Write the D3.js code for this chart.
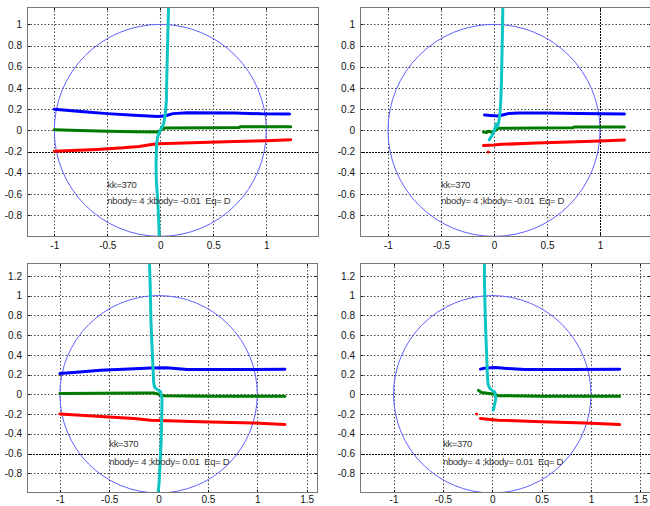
<!DOCTYPE html>
<html><head><meta charset="utf-8">
<script src="https://cdn.jsdelivr.net/npm/d3@7"></script>
<style>
html,body{margin:0;padding:0;background:#fff;}
svg text{font-family:"Liberation Sans",Arial,sans-serif;}
</style></head>
<body>
<svg id="chart" width="650" height="506"></svg>
<script>
// ---------- data ----------
const xTicksTop = [-1, -0.5, 0, 0.5, 1];
const xTicksBottom = [-1, -0.5, 0, 0.5, 1, 1.5];
const yTicksTop = [-0.8, -0.6, -0.4, -0.2, 0, 0.2, 0.4, 0.6, 0.8, 1];
const yTicksBottom = [-0.8, -0.6, -0.4, -0.2, 0, 0.2, 0.4, 0.6, 0.8, 1, 1.2];
const labelKK = "kk=370";
const labelNeg = "nbody= 4 ;kbody= -0.01 \u00a0Eq= D";
const labelPos = "nbody= 4 ;kbody= 0.01 \u00a0Eq= D";

const p1Blue = [[-1,0.20],[-0.75,0.178],[-0.5,0.158],[-0.25,0.142],[-0.02,0.132],[0.05,0.138],[0.12,0.158],[0.25,0.166],[0.7,0.164],[0.95,0.156],[1.22,0.154]];
const p1Green = [[-1,0.006],[-0.85,0.0],[-0.5,-0.008],[-0.25,-0.012],[-0.02,-0.015],[0.01,0.005],[0.04,0.022],[0.5,0.025],[0.74,0.027],[0.76,0.035],[1.23,0.035]];
const p1Red = [[-1,-0.198],[-0.6,-0.18],[-0.35,-0.165],[-0.2,-0.152],[-0.1,-0.135],[-0.02,-0.127],[0.3,-0.117],[0.7,-0.105],[1.0,-0.097],[1.23,-0.088]];
const p1Cyan = [[0.078,1.17],[0.072,0.95],[0.066,0.7],[0.06,0.45],[0.058,0.29],[0.046,0.14],[0.03,0.06],[0.01,0.02],[0.0,0.0],[-0.025,-0.06],[-0.034,-0.12],[-0.04,-0.3],[-0.038,-0.47],[-0.025,-0.65],[-0.015,-0.85],[-0.01,-1.0]];

const p2Blue = [[-0.09,0.145],[-0.03,0.14],[0.04,0.135],[0.08,0.145],[0.14,0.16],[0.23,0.165],[0.5,0.165],[0.8,0.16],[1.23,0.154]];
const p2Green = [[-0.1,-0.015],[-0.07,-0.02],[-0.05,-0.008],[-0.02,-0.018],[0.02,0.005],[0.04,0.02],[0.4,0.022],[0.74,0.024],[0.76,0.033],[1.23,0.033]];
const p2Red = [[-0.1,-0.142],[0.0,-0.138],[0.07,-0.132],[0.4,-0.12],[0.7,-0.11],[1.0,-0.1],[1.23,-0.092]];
const p2RedDot = [[-0.055,-0.205]];
const p2Cyan = [[0.083,1.17],[0.08,0.95],[0.075,0.7],[0.07,0.45],[0.064,0.28],[0.055,0.15],[0.045,0.08],[0.03,0.03],[0.02,0.06],[0.0,-0.01],[-0.02,-0.05],[-0.045,-0.09]];

const p3Blue = [[-1,0.21],[-0.8,0.225],[-0.59,0.243],[-0.3,0.255],[-0.08,0.267],[0.08,0.268],[0.29,0.25],[0.7,0.25],[1.28,0.253]];
const p3Green = [[-1,0.007],[-0.6,0.01],[-0.2,0.012],[-0.05,0.014],[0.0,0.0],[0.05,-0.014],[0.5,-0.02],[1.28,-0.02]];
const p3Red = [[-1,-0.2],[-0.5,-0.23],[-0.25,-0.245],[-0.08,-0.262],[0.42,-0.277],[0.96,-0.29],[1.28,-0.307]];
const p3Cyan = [[-0.092,1.33],[-0.085,1.1],[-0.078,0.76],[-0.065,0.45],[-0.057,0.28],[-0.05,0.12],[-0.04,0.07],[-0.015,0.05],[0.02,0.025],[0.035,-0.05],[0.03,-0.3],[0.027,-0.46],[0.015,-0.7],[0.005,-0.9],[-0.005,-1.0]];

const p4Blue = [[-0.12,0.255],[-0.08,0.265],[0.03,0.272],[0.15,0.262],[0.33,0.25],[0.8,0.25],[1.29,0.253]];
const p4Green = [[-0.14,0.04],[-0.11,0.018],[-0.05,0.01],[0.02,0.0],[0.06,-0.014],[0.5,-0.02],[1.29,-0.02]];
const p4Red = [[-0.12,-0.245],[0.06,-0.262],[0.5,-0.277],[0.94,-0.29],[1.29,-0.307]];
const p4RedDot = [[-0.158,-0.2]];
const p4Cyan = [[-0.08,1.33],[-0.078,1.1],[-0.074,0.9],[-0.065,0.6],[-0.057,0.4],[-0.05,0.2],[-0.042,0.1],[-0.025,0.06],[0.0,0.04],[0.027,0.02],[0.035,-0.05],[0.02,-0.12],[0.01,-0.16]];

// ---------- layout ----------
const panels = [
  {id:1, left:27, top:7, width:292, height:230, xd:[-1.2575,1.497], yd:[-1.006,1.164], xt:xTicksTop, yt:yTicksTop, pad:5,
   darkX:[], darkY:[-0.2],
   blue:p1Blue, green:p1Green, red:p1Red, cyan:p1Cyan, dots:[], txt:labelNeg, ty:[-0.51,-0.66]},
  {id:2, left:360, top:7, width:292, height:230, xd:[-1.264,1.49], yd:[-1.006,1.164], xt:xTicksTop, yt:yTicksTop, pad:5,
   darkX:[1], darkY:[-0.2],
   blue:p2Blue, green:p2Green, red:p2Red, cyan:p2Cyan, dots:p2RedDot, txt:labelNeg, ty:[-0.51,-0.66]},
  {id:3, left:27, top:263, width:291, height:230, xd:[-1.333,1.615], yd:[-1.0,1.33], xt:xTicksBottom, yt:yTicksBottom, pad:3,
   darkX:[], darkY:[-0.6],
   blue:p3Blue, green:p3Green, red:p3Red, cyan:p3Cyan, dots:[], txt:labelPos, ty:[-0.5,-0.68]},
  {id:4, left:360, top:263, width:291, height:230, xd:[-1.34,1.608], yd:[-1.0,1.33], xt:xTicksBottom, yt:yTicksBottom, pad:3,
   darkX:[], darkY:[-0.6],
   blue:p4Blue, green:p4Green, red:p4Red, cyan:p4Cyan, dots:p4RedDot, txt:labelPos, ty:[-0.5,-0.68]}
];

const svg = d3.select("#chart");
const fmt = d => (d === 0 ? "0" : String(d));

panels.forEach(p => {
  const x = d3.scaleLinear().domain(p.xd).range([p.left, p.left + p.width]);
  const y = d3.scaleLinear().domain(p.yd).range([p.top + p.height, p.top]);
  const g = svg.append("g");

  const clipId = "clip" + p.id;
  g.append("clipPath").attr("id", clipId).append("rect")
    .attr("x", p.left).attr("y", p.top).attr("width", p.width).attr("height", p.height);

  // grid
  const grid = g.append("g").attr("stroke-width", 1).attr("stroke-dasharray", "1.5,2");
  p.xt.forEach(t => grid.append("line")
    .attr("stroke", p.darkX.includes(t) ? "#000" : "#444")
    .attr("stroke-dasharray", p.darkX.includes(t) ? "2,1" : null)
    .attr("x1", Math.round(x(t)) + 0.5).attr("x2", Math.round(x(t)) + 0.5)
    .attr("y1", p.top).attr("y2", p.top + p.height));
  p.yt.forEach(t => grid.append("line")
    .attr("stroke", p.darkY.includes(t) ? "#000" : "#444")
    .attr("stroke-dasharray", p.darkY.includes(t) ? "2,1" : null)
    .attr("y1", Math.round(y(t)) + 0.5).attr("y2", Math.round(y(t)) + 0.5)
    .attr("x1", p.left).attr("x2", p.left + p.width));

  // axes
  const xAxis = d3.axisBottom(x).tickValues(p.xt).tickSize(0).tickPadding(p.pad).tickFormat(fmt);
  const yAxis = d3.axisLeft(y).tickValues(p.yt).tickSize(0).tickPadding(5).tickFormat(fmt);
  const gx = g.append("g").attr("transform", `translate(0,${p.top + p.height})`).call(xAxis);
  const gy = g.append("g").attr("transform", `translate(${p.left},0)`).call(yAxis);
  [gx, gy].forEach(a => {
    a.select(".domain").remove();
    a.selectAll("text").attr("font-size", 10).attr("fill", "#111")
      .attr("font-family", "'Liberation Sans',Arial,sans-serif");
  });
  // inner tick marks
  const ticks = g.append("g").attr("stroke", "#111").attr("stroke-width", 1);
  p.xt.forEach(t => {
    const xx = Math.round(x(t)) + 0.5;
    ticks.append("line").attr("x1", xx).attr("x2", xx).attr("y1", p.top + p.height).attr("y2", p.top + p.height - 3);
    ticks.append("line").attr("x1", xx).attr("x2", xx).attr("y1", p.top).attr("y2", p.top + 3);
  });
  p.yt.forEach(t => {
    const yy = Math.round(y(t)) + 0.5;
    ticks.append("line").attr("y1", yy).attr("y2", yy).attr("x1", p.left).attr("x2", p.left + 3);
    ticks.append("line").attr("y1", yy).attr("y2", yy).attr("x1", p.left + p.width).attr("x2", p.left + p.width - 3);
  });

  const plot = g.append("g").attr("clip-path", `url(#${clipId})`);

  // unit circle
  plot.append("ellipse")
    .attr("cx", x(0)).attr("cy", y(0))
    .attr("rx", x(1) - x(0)).attr("ry", y(0) - y(1))
    .attr("fill", "none").attr("stroke", "#6060ff").attr("stroke-width", 1);

  const line = d3.line().x(d => x(d[0])).y(d => y(d[1]));
  const series = [
    {data: p.blue, color: "#0000ff"},
    {data: p.green, color: "#007a00"},
    {data: p.red, color: "#ff0000"},
    {data: p.cyan, color: "#10c4c4"}
  ];
  series.forEach(s => plot.append("path").attr("d", line(s.data))
    .attr("fill", "none").attr("stroke", s.color).attr("stroke-width", 3)
    .attr("stroke-linejoin", "round").attr("stroke-linecap", "round"));

  plot.selectAll("circle.dot").data(p.dots).enter().append("circle")
    .attr("cx", d => x(d[0])).attr("cy", d => y(d[1])).attr("r", 1.5).attr("fill", "#ff0000");

  // text annotations
  const tg = g.append("g").attr("font-size", 9.5).attr("letter-spacing", "-0.3px").attr("fill", "#333");
  tg.append("text").attr("x", x(-0.5)).attr("y", y(p.ty[0])).attr("dy", "0.35em").text(labelKK);
  tg.append("text").attr("x", x(-0.5)).attr("y", y(p.ty[1])).attr("dy", "0.35em").text(p.txt);

  // box
  g.append("rect").attr("x", p.left + 0.5).attr("y", p.top + 0.5)
    .attr("width", p.width - 1).attr("height", p.height - 1)
    .attr("fill", "none").attr("stroke", "#777").attr("stroke-width", 1);
});
</script>
</body></html>
